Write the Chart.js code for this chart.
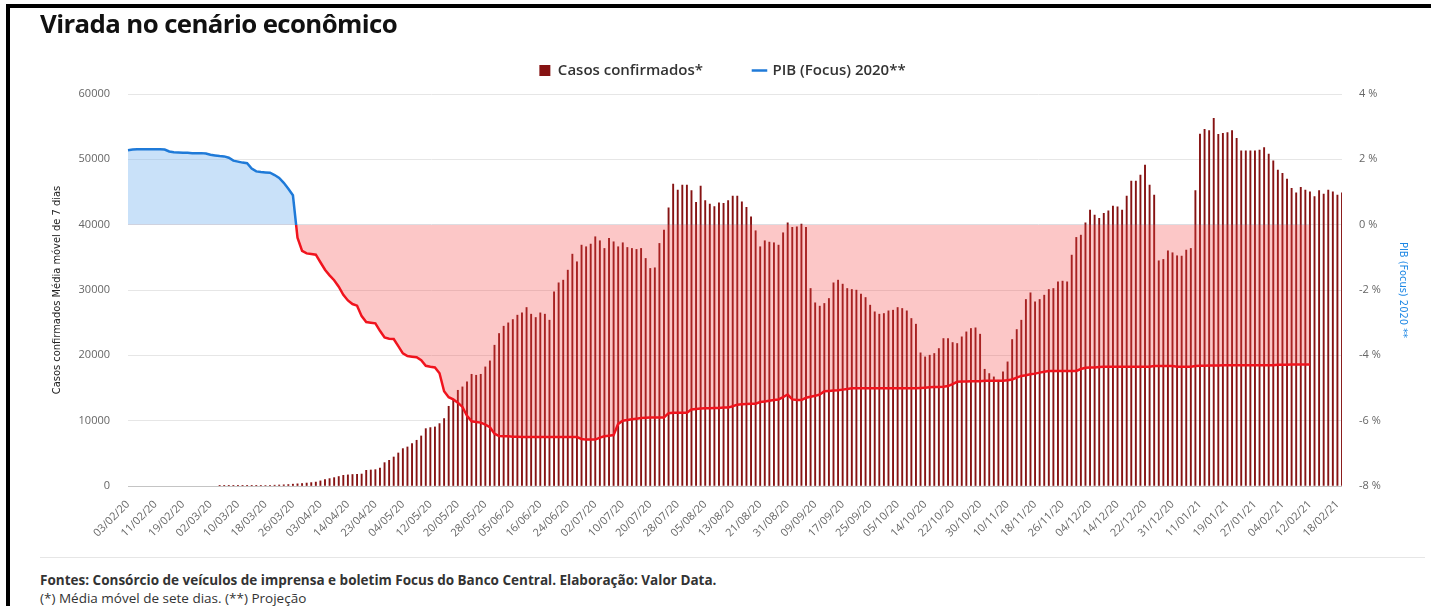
<!DOCTYPE html>
<html lang="pt-BR">
<head>
<meta charset="utf-8">
<title>Virada no cenário econômico</title>
<script src="https://cdn.jsdelivr.net/npm/chart.js@4.4.1/dist/chart.umd.min.js"></script>
<style>
  html, body { margin: 0; padding: 0; background: #fff; }
  body { width: 1431px; height: 606px; position: relative; overflow: hidden; font-family: 'Open Sans', sans-serif; }
  .chart { position: absolute; left: 0; top: 0; width: 1431px; height: 555px; }
  .frame { position: absolute; left: 6px; top: 4px; right: -10px; bottom: -10px; border-top: 4px solid #000; border-left: 4px solid #000; pointer-events: none; }
  h1 { position: absolute; left: 40px; top: 5px; margin: 0; font-size: 25.8px; font-weight: 700; letter-spacing: -0.6px; color: #111; }
  .rule { position: absolute; left: 40px; right: 6px; top: 557px; border-top: 1px solid #e6e6e6; }
  .notes { position: absolute; left: 40px; top: 571px; font-size: 13.5px; line-height: 18px; color: #333; }
  .notes b { font-weight: 700; }
</style>
</head>
<body>
<div class="chart"><canvas id="virada"></canvas></div>
<h1>Virada no cenário econômico</h1>
<div class="rule"></div>
<div class="notes">
  <b>Fontes: Consórcio de veículos de imprensa e boletim Focus do Banco Central. Elaboração: Valor Data.</b><br>
  (*) Média móvel de sete dias. (**) Projeção
</div>
<script>
// one label every 6 business days
const TICK_STEP = 6;
const tickDates = [
  '03/02/20', '11/02/20', '19/02/20', '02/03/20', '10/03/20', '18/03/20', '26/03/20',
  '03/04/20', '14/04/20', '23/04/20', '04/05/20', '12/05/20', '20/05/20', '28/05/20',
  '05/06/20', '16/06/20', '24/06/20', '02/07/20', '10/07/20', '20/07/20', '28/07/20',
  '05/08/20', '13/08/20', '21/08/20', '31/08/20', '09/09/20', '17/09/20', '25/09/20',
  '05/10/20', '14/10/20', '22/10/20', '30/10/20', '10/11/20', '18/11/20', '26/11/20',
  '04/12/20', '14/12/20', '22/12/20', '31/12/20', '11/01/21', '19/01/21', '27/01/21',
  '04/02/21', '12/02/21', '18/02/21'
];

// casos confirmados, media movel de 7 dias (sem registro antes do primeiro caso)
const cases = [
  null, null, null, null, null, null, null, null, null, null,
  null, null, null, null, null, null, null, null, null, null,
  1, 2, 3, 5, 8, 12, 20, 30, 45, 60,
  80, 100, 125, 150, 180, 220, 280, 330, 380, 450,
  520, 600, 780, 970, 1130, 1280, 1450, 1630, 1700, 1760,
  1790, 1830, 2400, 2450, 2500, 2760, 3575, 3930, 4440, 5055,
  5720, 5975, 6490, 7000, 7660, 8780, 8940, 9040, 9550, 10320,
  12200, 13120, 14650, 15170, 15930, 17100, 16950, 17100, 18230, 19150,
  21550, 23340, 24460, 24970, 25480, 26150, 26500, 27320, 26300, 25790,
  26500, 26300, 25380, 29720, 31100, 31510, 33040, 35490, 34320, 36870,
  36620, 37030, 38150, 37540, 36360, 37900, 37380, 36620, 37230, 36510,
  36360, 36210, 36360, 34830, 33300, 33400, 37130, 39170, 42590, 46220,
  45300, 46070, 46070, 45200, 43410, 45910, 43670, 43150, 42750, 43360,
  43260, 43670, 44380, 44380, 43510, 42640, 41210, 39070, 36620, 37540,
  37330, 37230, 36870, 38760, 40290, 39580, 39680, 40090, 39580, 30230,
  28040, 27530, 27940, 28700, 31100, 31510, 30900, 30230, 30080, 29980,
  29370, 28850, 27680, 26660, 26300, 26400, 26810, 26910, 27320, 27170,
  26810, 25640, 24770, 20380, 19760, 20020, 20280, 21040, 22570, 22570,
  21960, 21810, 22830, 23590, 24110, 24210, 23240, 17870, 17210, 16700,
  16190, 17470, 19000, 22420, 23950, 25380, 28550, 29570, 28190, 28550,
  29210, 30080, 30230, 31250, 31360, 31250, 35340, 38050, 38400, 40290,
  42230, 41470, 40960, 41720, 42130, 42850, 42740, 42230, 44380, 46680,
  46680, 47600, 49130, 46070, 44530, 34470, 34680, 36000, 35700, 35240,
  35190, 36110, 36360, 45200, 53880, 54590, 54390, 56280, 53830, 53980,
  54080, 54390, 53220, 51320, 51320, 51320, 51320, 51430, 51780, 50810,
  49790, 48360, 47850, 46980, 45550, 44890, 45710, 45300, 45040, 44280,
  45200, 44690, 45300, 45040, 44530, 44890
];

// projecao Focus para o PIB de 2020, em %
const pib = [
  2.28, 2.30, 2.31, 2.31, 2.31, 2.31, 2.31, 2.31, 2.30, 2.24,
  2.22, 2.21, 2.20, 2.20, 2.19, 2.19, 2.19, 2.18, 2.14, 2.12,
  2.10, 2.09, 2.05, 1.96, 1.93, 1.90, 1.88, 1.72, 1.63, 1.61,
  1.60, 1.59, 1.52, 1.43, 1.28, 1.10, 0.90, -0.40, -0.80, -0.88,
  -0.90, -0.92, -1.15, -1.38, -1.55, -1.70, -1.90, -2.15, -2.32, -2.43,
  -2.48, -2.80, -2.98, -3.00, -3.02, -3.25, -3.45, -3.49, -3.50, -3.72,
  -3.94, -4.02, -4.04, -4.06, -4.15, -4.32, -4.35, -4.37, -4.55, -5.10,
  -5.28, -5.35, -5.45, -5.58, -5.85, -6.02, -6.04, -6.06, -6.12, -6.20,
  -6.40, -6.47, -6.48, -6.48, -6.49, -6.49, -6.50, -6.50, -6.50, -6.50,
  -6.50, -6.50, -6.50, -6.50, -6.50, -6.50, -6.50, -6.50, -6.50, -6.56,
  -6.58, -6.58, -6.58, -6.52, -6.48, -6.46, -6.44, -6.10, -6.00, -5.98,
  -5.96, -5.94, -5.92, -5.91, -5.90, -5.90, -5.90, -5.90, -5.77, -5.76,
  -5.76, -5.76, -5.76, -5.66, -5.64, -5.63, -5.62, -5.62, -5.61, -5.61,
  -5.60, -5.60, -5.56, -5.51, -5.50, -5.49, -5.48, -5.48, -5.43, -5.41,
  -5.39, -5.37, -5.35, -5.28, -5.20, -5.35, -5.37, -5.37, -5.30, -5.27,
  -5.24, -5.20, -5.10, -5.09, -5.08, -5.07, -5.05, -5.03, -5.01, -5.01,
  -5.01, -5.01, -5.01, -5.01, -5.01, -5.01, -5.01, -5.01, -5.01, -5.01,
  -5.01, -5.01, -5.01, -5.00, -4.99, -4.98, -4.97, -4.97, -4.96, -4.94,
  -4.88, -4.81, -4.80, -4.80, -4.79, -4.79, -4.79, -4.78, -4.78, -4.78,
  -4.78, -4.78, -4.76, -4.74, -4.68, -4.63, -4.61, -4.58, -4.56, -4.53,
  -4.50, -4.48, -4.48, -4.48, -4.48, -4.48, -4.48, -4.48, -4.42, -4.38,
  -4.37, -4.37, -4.36, -4.35, -4.35, -4.35, -4.35, -4.35, -4.35, -4.35,
  -4.35, -4.35, -4.35, -4.35, -4.33, -4.33, -4.33, -4.33, -4.33, -4.35,
  -4.35, -4.35, -4.35, -4.33, -4.32, -4.32, -4.31, -4.31, -4.31, -4.30,
  -4.30, -4.30, -4.30, -4.30, -4.30, -4.30, -4.30, -4.30, -4.30, -4.30,
  -4.30, -4.29, -4.29, -4.29, -4.28, -4.28, -4.28, -4.28, -4.28
];

const BAR = '#861313';
const BLUE = '#1f7ad8';
const RED = '#f0141e';
const BLUE_FILL = 'rgba(120, 180, 240, 0.4)';
const RED_FILL = 'rgba(245, 70, 70, 0.3)';
const NARROW = "'Liberation Sans Narrow', 'DejaVu Sans Condensed', sans-serif";

const labels = cases.map((_, i) => (i % TICK_STEP ? '' : tickDates[i / TICK_STEP]));

// line is blue above 0 % and red below it
const pibColor = (ctx) => {
  const { chart } = ctx;
  const { chartArea, scales } = chart;
  if (!chartArea || !scales.pib) return BLUE;
  const zero = scales.pib.getPixelForValue(0);
  const stop = Math.min(1, Math.max(0, (zero - chartArea.top) / (chartArea.bottom - chartArea.top)));
  const g = chart.ctx.createLinearGradient(0, chartArea.top, 0, chartArea.bottom);
  g.addColorStop(0, BLUE);
  g.addColorStop(stop, BLUE);
  g.addColorStop(stop, RED);
  g.addColorStop(1, RED);
  return g;
};

// a bit of room between the legend and the plot
const legendGap = {
  id: 'legendGap',
  beforeInit(chart) {
    const fit = chart.legend.fit;
    chart.legend.fit = function () {
      fit.call(this);
      this.height += 6;
    };
  }
};

Chart.defaults.font.family = "'Open Sans', sans-serif";
Chart.defaults.color = '#666';

new Chart(document.getElementById('virada'), {
  type: 'bar',
  plugins: [legendGap],
  data: {
    labels,
    datasets: [
      {
        type: 'line',
        label: 'PIB (Focus) 2020**',
        data: pib,
        yAxisID: 'pib',
        order: 0,
        borderColor: pibColor,
        borderWidth: 2.5,
        pointRadius: 0,
        tension: 0,
        fill: { target: { value: 0 }, above: BLUE_FILL, below: RED_FILL }
      },
      {
        type: 'bar',
        label: 'Casos confirmados*',
        data: cases,
        yAxisID: 'casos',
        order: 1,
        backgroundColor: BAR,
        barThickness: 1.25
      }
    ]
  },
  options: {
    responsive: true,
    maintainAspectRatio: false,
    animation: false,
    layout: { padding: { top: 12, left: 14, right: 0, bottom: 0 } },
    plugins: {
      tooltip: { enabled: false },
      legend: {
        position: 'top',
        labels: {
          usePointStyle: true,
          boxWidth: 11,
          boxHeight: 11,
          padding: 51,
          color: '#333',
          font: { size: 15, weight: '600' },
          generateLabels: () => [
            { text: 'Casos confirmados*', fillStyle: BAR, strokeStyle: BAR, lineWidth: 0, pointStyle: 'rect', datasetIndex: 1, hidden: false, fontColor: '#333' },
            { text: 'PIB (Focus) 2020**', fillStyle: BLUE, strokeStyle: BLUE, lineWidth: 2.5, pointStyle: 'line', datasetIndex: 0, hidden: false, fontColor: '#333' }
          ]
        }
      }
    },
    scales: {
      x: {
        offset: false,
        grid: { display: false },
        border: { display: false },
        ticks: {
          autoSkip: false,
          minRotation: 45,
          maxRotation: 45,
          padding: 4,
          font: { size: 11 },
          color: '#666',
          callback(v, i) { return labels[i] || null; }
        },
        afterFit(s) { s.height = 69; }
      },
      casos: {
        position: 'left',
        min: 0,
        max: 60000,
        border: { display: false },
        grid: {
          drawTicks: false,
          color: (c) => (c.tick && c.tick.value === 0 ? '#c4c4c4' : '#e6e6e6')
        },
        ticks: { stepSize: 10000, padding: 18, font: { size: 11 }, color: '#666', callback: (v) => String(v) },
        title: {
          display: true,
          text: 'Casos confirmados Média móvel de 7 dias',
          color: '#222',
          font: { size: 11, family: NARROW },
          padding: { top: 37, bottom: 0 }
        },
        afterFit(s) { s.width = 114; }
      },
      pib: {
        position: 'right',
        min: -8,
        max: 4,
        border: { display: false },
        grid: { drawOnChartArea: false, drawTicks: false },
        ticks: { stepSize: 2, padding: 17, font: { size: 11 }, color: '#666', callback: (v) => v + ' %' },
        title: {
          display: true,
          text: 'PIB (Focus) 2020 **',
          color: '#1e88e5',
          font: { size: 11, family: NARROW },
          padding: { top: 22, bottom: 0 }
        },
        afterFit(s) { s.width = 89; }
      }
    }
  }
});
</script>
<div class="frame"></div>
</body>
</html>
